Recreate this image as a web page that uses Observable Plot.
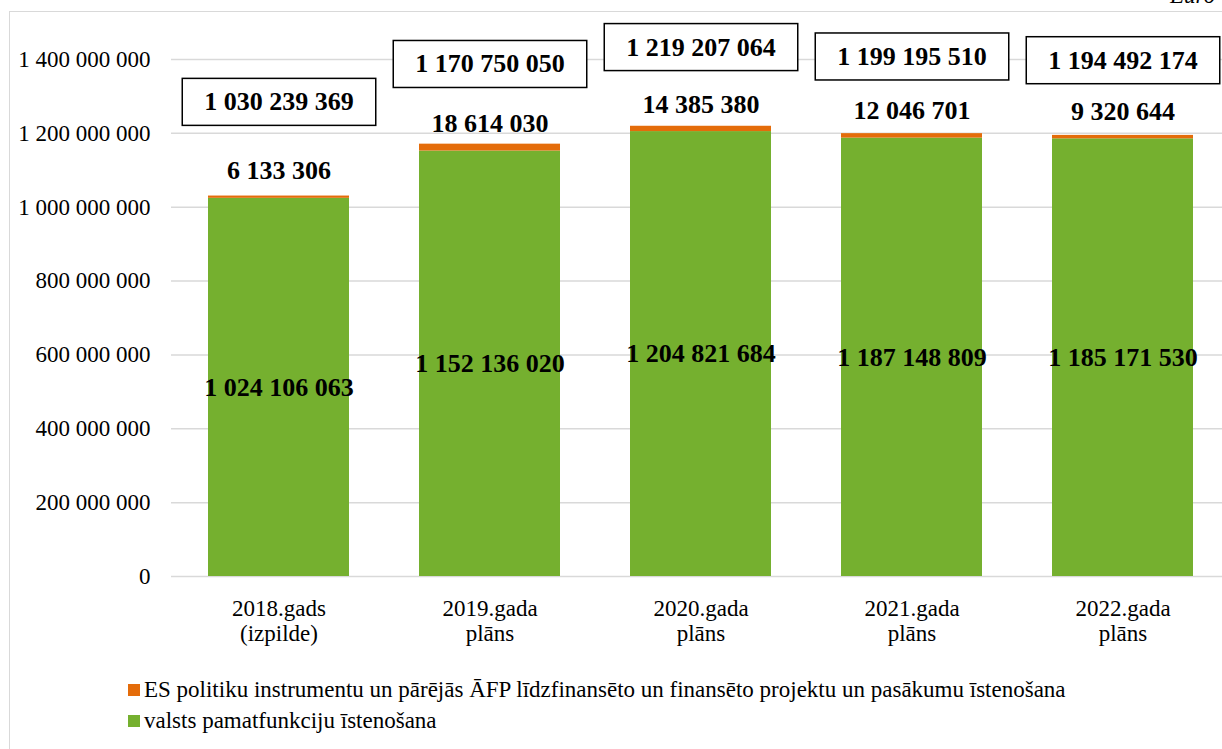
<!DOCTYPE html>
<html><head><meta charset="utf-8">
<script src="https://cdn.jsdelivr.net/npm/d3@7"></script>
<script src="https://cdn.jsdelivr.net/npm/@observablehq/plot@0.6"></script>
<style>
body{margin:0;background:#fff;}
#wrap{position:relative;width:1222px;height:749px;overflow:hidden;font-family:'Liberation Serif',LiberationSerif,'Times New Roman',Times,Tinos,'DejaVu Serif','Noto Serif',FreeSerif,serif;color:#000;}
#frame{position:absolute;left:9px;top:11px;width:1300px;height:800px;border-left:1.5px solid #d9d9d9;border-top:1.5px solid #d9d9d9;}
#chart{position:absolute;left:0;top:0;}
#euro{position:absolute;left:1170px;top:-16px;font-style:italic;font-size:23px;line-height:23px;}
#legend{position:absolute;left:128px;top:674px;font-size:23px;}
.li{display:flex;align-items:center;height:31px;white-space:nowrap;}
.sw{width:12px;height:12px;margin-right:4px;flex:none;}
svg text{font-family:'Liberation Serif',LiberationSerif,'Times New Roman',Times,Tinos,'DejaVu Serif','Noto Serif',FreeSerif,serif;}
</style></head><body>
<div id="wrap"><div id="frame"></div><div id="chart"></div><div id="euro">Euro</div><div id="legend"></div></div>
<script>
// ---- data ----
const categories = ["2018.gads\n(izpilde)", "2019.gada\nplāns", "2020.gada\nplāns", "2021.gada\nplāns", "2022.gada\nplāns"];
const seriesNames = ["valsts pamatfunkciju īstenošana", "ES politiku instrumentu un pārējās ĀFP līdzfinansēto un finansēto projektu un pasākumu īstenošana"];
const baseValues = [1024106063, 1152136020, 1204821684, 1187148809, 1185171530];
const euValues = [6133306, 18614030, 14385380, 12046701, 9320644];
const totalValues = [1030239369, 1170750050, 1219207064, 1199195510, 1194492174];
const yTicks = [0, 200000000, 400000000, 600000000, 800000000, 1000000000, 1200000000, 1400000000];
const colors = ["#75b02f", "#e46c0a"];

// label vertical offsets (layout)
const euDy = [-25, -20, -22, -23, -24];
const boxDy = [-94, -80, -79, -77, -75];

const fmt = d => d3.format(",")(d).replace(/,/g, " ");

const rows = [];
categories.forEach((c, i) => {
  rows.push({cat: c, series: seriesNames[0], value: baseValues[i]});
  rows.push({cat: c, series: seriesNames[1], value: euValues[i]});
});
const baseRows = categories.map((c, i) => ({cat: c, value: baseValues[i]}));
const topRows = categories.map((c, i) => ({cat: c, total: totalValues[i], eu: euValues[i]}));

const marks = [
  Plot.gridY(yTicks, {stroke: "#d9d9d9", strokeOpacity: 1, strokeWidth: 1.5}),
  Plot.axisY(yTicks, {tickSize: 0, tickPadding: 21, tickFormat: fmt, fontSize: 23, label: null}),
  Plot.axisX({tickSize: 0, tickPadding: 22, fontSize: 23, lineHeight: 1.08, label: null}),
  Plot.barY(rows, {x: "cat", y: "value", fill: "series"}),
  Plot.text(baseRows, Plot.stackY({x: "cat", y: "value", text: d => fmt(d.value), fontWeight: "bold", fontSize: 26}))
];
topRows.forEach((r, i) => {
  marks.push(Plot.text([r], {x: "cat", y: "total", text: d => fmt(d.eu), dy: euDy[i], fontWeight: "bold", fontSize: 26}));
  marks.push(Plot.text([r], {x: "cat", y: "total", text: d => fmt(d.total), dy: boxDy[i], fontWeight: "bold", fontSize: 26}));
});

const chart = Plot.plot({
  width: 1222, height: 665,
  marginLeft: 171, marginRight: 0, marginTop: 59, marginBottom: 89,
  style: {fontSize: "23px", color: "#000", background: "transparent", overflow: "visible"},
  x: {domain: categories, range: [171, 1230], paddingInner: 0.333, paddingOuter: 0.1665, label: null},
  y: {domain: [0, 1400000000], label: null},
  color: {domain: seriesNames, range: colors},
  marks
});
document.getElementById("chart").appendChild(chart);

// boxes around totals
const totalStrings = new Set(totalValues.map(fmt));
d3.select(chart).selectAll("text").each(function() {
  if (!totalStrings.has(this.textContent.trim())) return;
  const b = this.getBBox();
  const padX = 22, padY = 9;
  const tr = this.getAttribute("transform");
  const rect = d3.select(this.parentNode).insert("rect", () => this)
    .attr("x", b.x - padX).attr("y", b.y - padY)
    .attr("width", b.width + 2 * padX).attr("height", b.height + 2 * padY)
    .attr("fill", "#fff").attr("stroke", "#000").attr("stroke-width", 1.5);
  if (tr) rect.attr("transform", tr);
});

// legend
const legend = d3.select("#legend");
[1, 0].forEach(i => {
  const li = legend.append("div").attr("class", "li");
  li.append("div").attr("class", "sw").style("background", colors[i]);
  li.append("span").text(seriesNames[i]);
});
</script>
</body></html>
